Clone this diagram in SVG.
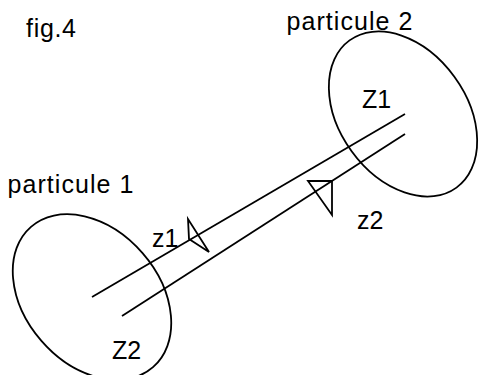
<svg xmlns="http://www.w3.org/2000/svg" width="479" height="375" viewBox="0 0 479 375">
<style>
.s{fill:none;stroke:#000;stroke-width:1.8;stroke-linejoin:miter}
.t{font-family:"Liberation Sans",Arial,sans-serif;font-size:25px;fill:#000}
</style>
<rect width="479" height="375" fill="#fff"/>
<text class="t" x="26" y="36.5" textLength="50">fig.4</text>
<g id="particule1">
<ellipse class="s" cx="92" cy="297" rx="93" ry="67" transform="rotate(49 92 297)"/>
<text class="t" x="7.5" y="193" textLength="126">particule 1</text>
<text class="t" x="112" y="359">Z2</text>
</g>
<g id="particule2">
<ellipse class="s" cx="403" cy="114" rx="91" ry="63.5" transform="rotate(54 403 114)"/>
<text class="t" x="286.5" y="30" textLength="126">particule 2</text>
<text class="t" x="362" y="108">Z1</text>
</g>
<g id="connectors">
<line class="s" x1="92" y1="297" x2="405" y2="114"/>
<line class="s" x1="122" y1="316" x2="405" y2="134"/>
<polygon class="s" points="188,219 189,239 209,252"/>
<polygon class="s" points="308,181 332,181 332,215"/>
<text class="t" x="152" y="247">z1</text>
<text class="t" x="357" y="229">z2</text>
</g>
</svg>
